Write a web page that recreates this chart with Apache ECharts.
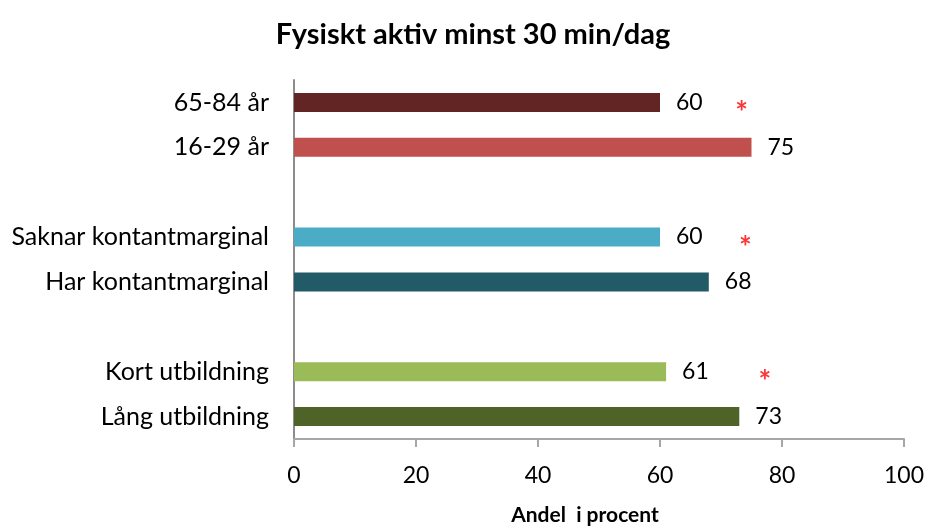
<!DOCTYPE html>
<html>
<head>
<meta charset="utf-8">
<script src="https://cdn.jsdelivr.net/npm/echarts@6/dist/echarts.min.js"></script>
<style>
html,body{margin:0;padding:0;background:#fff;}
#chart{width:926px;height:526px;}
</style>
</head>
<body>
<div id="chart"></div>
<script>
var categories = ['65-84 år', '16-29 år', '', 'Saknar kontantmarginal', 'Har kontantmarginal', '', 'Kort utbildning', 'Lång utbildning'];
var values = [60, 75, null, 60, 68, null, 61, 73];
var barColors = ['#632523', '#C0504D', '#ffffff', '#4BACC6', '#235A68', '#ffffff', '#9BBB59', '#4F6228'];
var starCategories = ['65-84 år', 'Saknar kontantmarginal', 'Kort utbildning'];
var starX = [73.4, 74, 77.2];
var xTicks = [0, 20, 40, 60, 80, 100];

var FONT = 'Lato';
var chart = echarts.init(document.getElementById('chart'), null, {renderer: 'canvas'});

var barData = values.map(function (v, i) {
  return {value: v, itemStyle: {color: barColors[i]}};
});
var starData = starX.map(function (x, i) { return [x, starCategories[i]]; });

chart.setOption({
  animation: false,
  backgroundColor: '#ffffff',
  title: {
    text: 'Fysiskt aktiv minst 30 min/dag',
    left: 468, top: 15, textAlign: 'center',
    textStyle: {fontFamily: FONT, fontWeight: 'bold', fontSize: 29, color: '#000'}
  },
  grid: {left: 294, right: 22, top: 80, bottom: 87, containLabel: false, outerBoundsMode: 'none'},
  xAxis: {
    type: 'value', min: xTicks[0], max: xTicks[xTicks.length - 1], interval: 20,
    name: 'Andel  i procent', nameLocation: 'middle', nameGap: 66,
    nameTextStyle: {fontFamily: FONT, fontWeight: 'bold', fontSize: 21, color: '#000',
      padding: [0, 28, 0, 0]},
    axisLine: {show: true, lineStyle: {color: '#A6A6A6', width: 2}},
    axisTick: {show: true, length: 8, inside: false, lineStyle: {color: '#A6A6A6', width: 2}},
    axisLabel: {fontFamily: FONT, fontSize: 23, color: '#000', margin: 25},
    splitLine: {show: false}
  },
  yAxis: {
    type: 'category', data: categories, inverse: true,
    axisLine: {show: true, lineStyle: {color: '#8C8C8C', width: 2}},
    axisTick: {show: false},
    axisLabel: {fontFamily: FONT, fontSize: 25, color: '#000', margin: 25}
  },
  series: [{
    type: 'bar', data: barData, barWidth: 19,
    label: {show: true, position: 'right', distance: 16,
      fontFamily: FONT, fontSize: 23, color: '#000'}
  }, {
    type: 'scatter', data: starData, symbolSize: 1,
    itemStyle: {color: 'rgba(0,0,0,0)'},
    label: {show: true, position: 'inside', formatter: '*', offset: [0, 11],
      fontFamily: FONT, fontWeight: 'bold', fontSize: 30, color: '#FF0000'}
  }]
});
</script>
</body>
</html>
